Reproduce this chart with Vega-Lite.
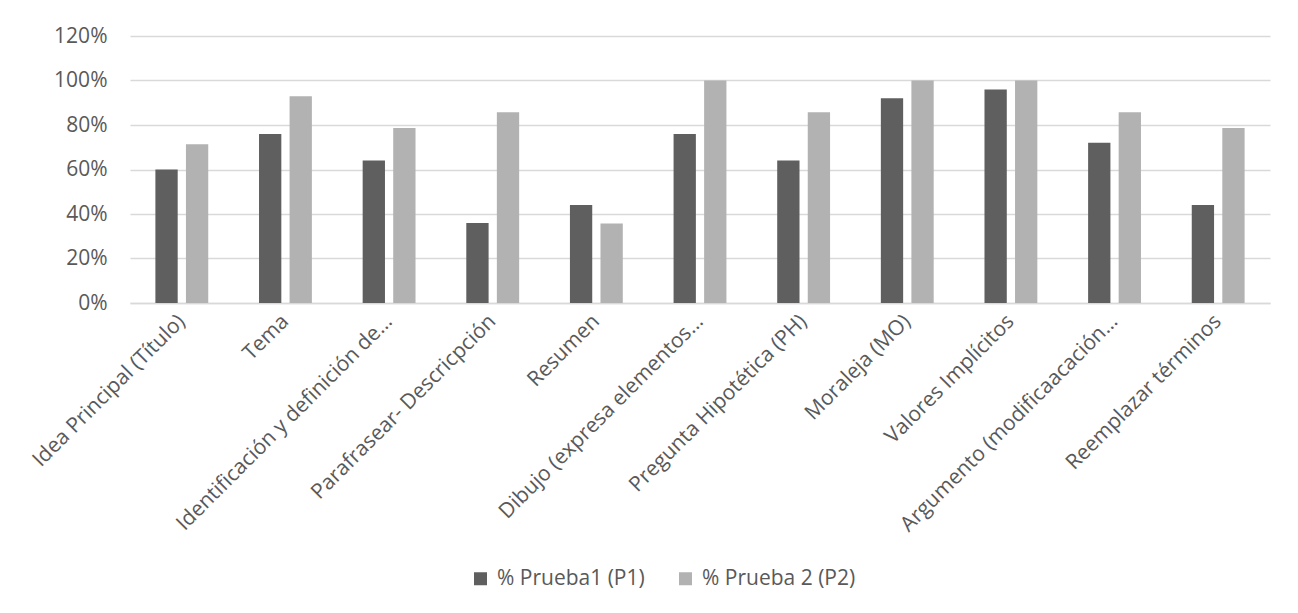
{
  "$schema": "https://vega.github.io/schema/vega-lite/v6.json",
  "width": 1140,
  "height": 267,
  "autosize": {"type": "none"},
  "padding": {"left": 130, "top": 36, "right": 28, "bottom": 310},
  "background": "white",
  "data": {
    "values": [
      {"criterio": "Idea Principal (Título)", "prueba": "% Prueba1 (P1)", "valor": 0.60},
      {"criterio": "Idea Principal (Título)", "prueba": "% Prueba 2 (P2)", "valor": 0.714},
      {"criterio": "Tema", "prueba": "% Prueba1 (P1)", "valor": 0.76},
      {"criterio": "Tema", "prueba": "% Prueba 2 (P2)", "valor": 0.929},
      {"criterio": "Identificación y definición de…", "prueba": "% Prueba1 (P1)", "valor": 0.64},
      {"criterio": "Identificación y definición de…", "prueba": "% Prueba 2 (P2)", "valor": 0.786},
      {"criterio": "Parafrasear- Descricpción", "prueba": "% Prueba1 (P1)", "valor": 0.36},
      {"criterio": "Parafrasear- Descricpción", "prueba": "% Prueba 2 (P2)", "valor": 0.857},
      {"criterio": "Resumen", "prueba": "% Prueba1 (P1)", "valor": 0.44},
      {"criterio": "Resumen", "prueba": "% Prueba 2 (P2)", "valor": 0.357},
      {"criterio": "Dibujo (expresa elementos…", "prueba": "% Prueba1 (P1)", "valor": 0.76},
      {"criterio": "Dibujo (expresa elementos…", "prueba": "% Prueba 2 (P2)", "valor": 1.0},
      {"criterio": "Pregunta Hipotética (PH)", "prueba": "% Prueba1 (P1)", "valor": 0.64},
      {"criterio": "Pregunta Hipotética (PH)", "prueba": "% Prueba 2 (P2)", "valor": 0.857},
      {"criterio": "Moraleja (MO)", "prueba": "% Prueba1 (P1)", "valor": 0.92},
      {"criterio": "Moraleja (MO)", "prueba": "% Prueba 2 (P2)", "valor": 1.0},
      {"criterio": "Valores Implícitos", "prueba": "% Prueba1 (P1)", "valor": 0.96},
      {"criterio": "Valores Implícitos", "prueba": "% Prueba 2 (P2)", "valor": 1.0},
      {"criterio": "Argumento (modificaacación…", "prueba": "% Prueba1 (P1)", "valor": 0.72},
      {"criterio": "Argumento (modificaacación…", "prueba": "% Prueba 2 (P2)", "valor": 0.857},
      {"criterio": "Reemplazar términos", "prueba": "% Prueba1 (P1)", "valor": 0.44},
      {"criterio": "Reemplazar términos", "prueba": "% Prueba 2 (P2)", "valor": 0.786}
    ]
  },
  "mark": {"type": "bar"},
  "encoding": {
    "x": {
      "field": "criterio",
      "type": "nominal",
      "sort": null,
      "title": null,
      "scale": {"paddingInner": 0.49, "paddingOuter": 0.245},
      "axis": {
        "labelAngle": -45,
        "labelAlign": "right",
        "labelBaseline": "middle",
        "labelPadding": 15,
        "labelLimit": 500,
        "ticks": false,
        "domainColor": "#d9d9d9",
        "domainWidth": 1.5
      }
    },
    "xOffset": {
      "field": "prueba",
      "type": "nominal",
      "sort": ["% Prueba1 (P1)", "% Prueba 2 (P2)"],
      "scale": {"paddingInner": 0.27}
    },
    "y": {
      "field": "valor",
      "type": "quantitative",
      "title": null,
      "scale": {"domain": [0, 1.2], "nice": false},
      "axis": {
        "format": ".0%",
        "values": [0, 0.2, 0.4, 0.6, 0.8, 1.0, 1.2],
        "domain": false,
        "ticks": false,
        "labelPadding": 23,
        "gridColor": "#d9d9d9",
        "gridWidth": 1.5
      }
    },
    "color": {
      "field": "prueba",
      "type": "nominal",
      "title": null,
      "sort": ["% Prueba1 (P1)", "% Prueba 2 (P2)"],
      "scale": {"domain": ["% Prueba1 (P1)", "% Prueba 2 (P2)"], "range": ["#5f5f5f", "#b2b2b2"]},
      "legend": {
        "orient": "none",
        "direction": "horizontal",
        "legendX": 340,
        "legendY": 532,
        "symbolType": "square",
        "symbolSize": 169,
        "symbolStrokeWidth": 0,
        "labelOffset": 6,
        "columnPadding": 30
      }
    }
  },
  "config": {
    "view": {"stroke": null},
    "font": "Open Sans",
    "axis": {
      "labelFont": "Open Sans",
      "labelFontSize": 21,
      "labelColor": "#595959"
    },
    "legend": {
      "labelFont": "Open Sans",
      "labelFontSize": 21,
      "labelColor": "#595959",
      "labelLimit": 400
    }
  }
}
